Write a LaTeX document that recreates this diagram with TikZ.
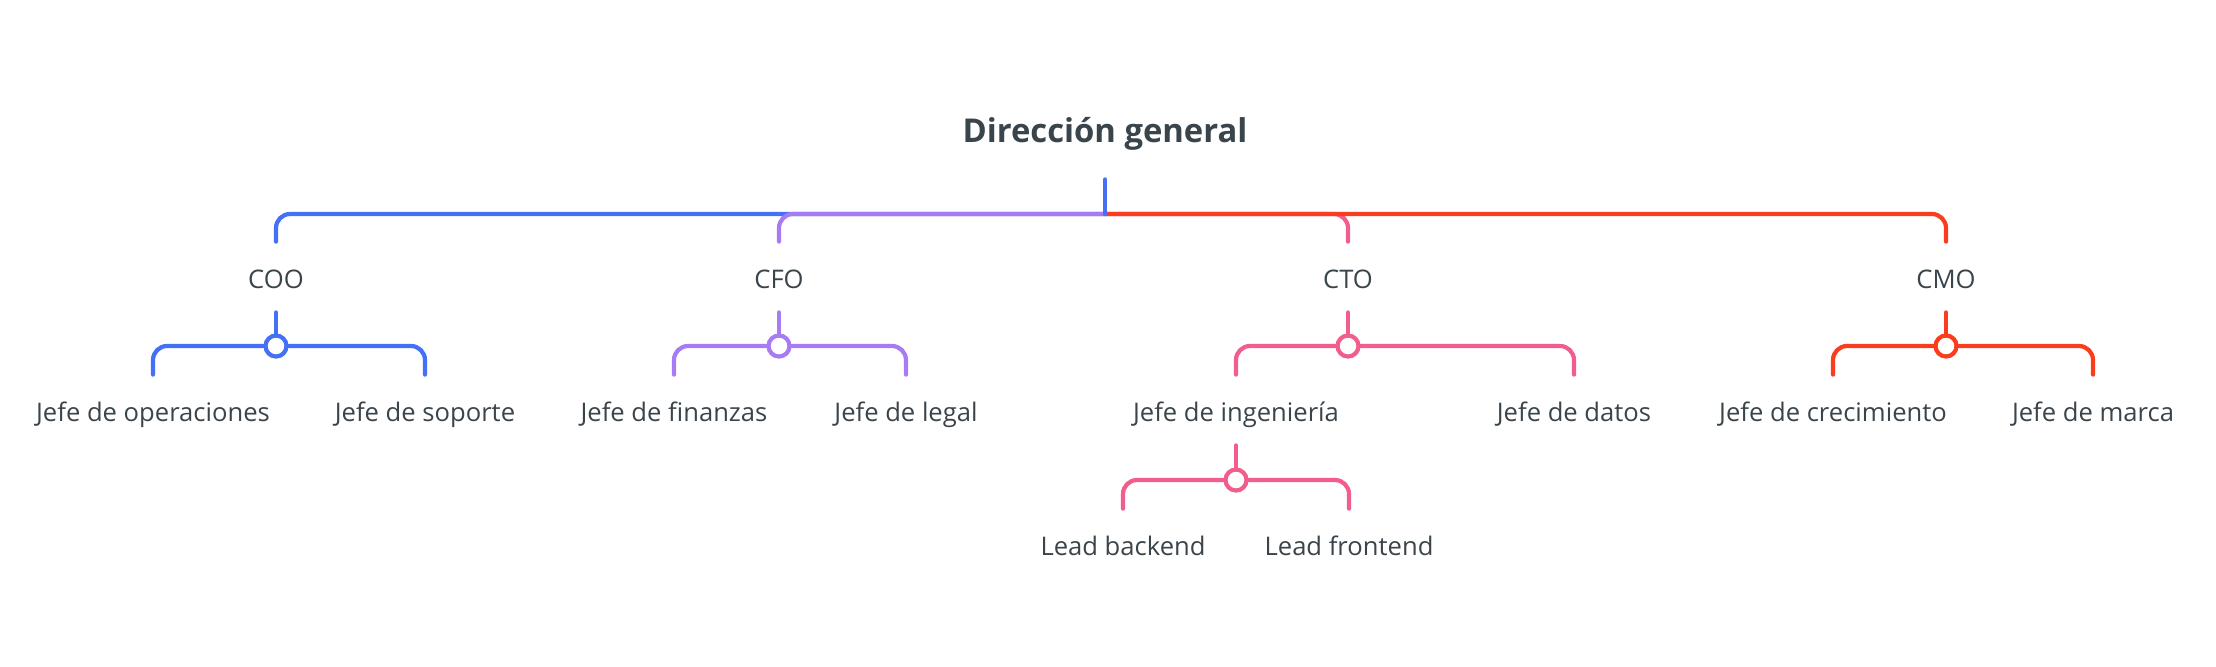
\documentclass[tikz,border=0pt]{standalone}
\usepackage{fontspec}
\setmainfont{Open Sans}
\usetikzlibrary{positioning}
\definecolor{txt}{HTML}{3A444B}
\definecolor{azul}{HTML}{4470F6}
\definecolor{morado}{HTML}{A77CF2}
\definecolor{rojo}{HTML}{FA3D1C}
\definecolor{rosa}{HTML}{F15E8C}

\begin{document}
\begin{tikzpicture}[x=0.5pt,y=-0.5pt,
	every node/.style={text=txt,font=\fontsize{12.8}{15}\selectfont},
	puesto/.style={minimum height=35pt,inner sep=0pt,text height=11.5pt,text depth=0.5pt},
	rama/.style={line width=2.1pt,line cap=round,rounded corners=7pt},
	nudo/.style={circle,draw,line width=2.1pt,fill=white,minimum size=10.5pt,inner sep=0pt}]
	\useasboundingbox (0,0) rectangle (2216,666);
	
	\node[font=\bfseries\fontsize{16.4}{20}\selectfont,minimum height=45pt,inner sep=0pt] (dg) at (1105,134) {Dirección general};
	\coordinate (dgj) at (1105,214);
	
	\node[puesto] (coo) at (276,277) {COO};
	\node[puesto] (cfo) at (779,277) {CFO};
	\node[puesto] (cto) at (1348,277) {CTO};
	\node[puesto] (cmo) at (1946,277) {CMO};
	
	\node[puesto] (jop) at (153,410) {Jefe de operaciones};
	\node[puesto] (jso) at (425,410) {Jefe de soporte};
	\node[puesto] (jfi) at (674,410) {Jefe de finanzas};
	\node[puesto] (jle) at (906,410) {Jefe de legal};
	\node[puesto] (jin) at (1236,410) {Jefe de ingeniería};
	\node[puesto] (jda) at (1574,410) {Jefe de datos};
	\node[puesto] (jcr) at (1833,410) {Jefe de crecimiento};
	\node[puesto] (jma) at (2093,410) {Jefe de marca};
	
	\node[puesto] (lbk) at (1123,544) {Lead backend};
	\node[puesto] (lfr) at (1349,544) {Lead frontend};
	
	% ramas de la direccion
	\draw[rama,azul] (dgj) -| (coo.north);
	\draw[rama,morado] (dgj) -| (cfo.north);
	\draw[rama,rosa] (dgj) -| (cto.north);
	\draw[rama,rojo] (dgj) -| (cmo.north);
	\draw[rama,azul] (dg.south) -- (dgj);
	
	% ramas de cada area
	\foreach \p/\a/\b/\col/\y in {coo/jop/jso/azul/346, cfo/jfi/jle/morado/346,
		cto/jin/jda/rosa/346, cmo/jcr/jma/rojo/346, jin/lbk/lfr/rosa/480}{
		\node[nudo,draw=\col] (\p j) at (\p.south |- 0,\y) {};
		\draw[rama,\col] (\p.south) -- (\p j.north);
		\draw[rama,\col] (\p j.west) -| (\a.north);
		\draw[rama,\col] (\p j.east) -| (\b.north);
	}
\end{tikzpicture}
\end{document}
